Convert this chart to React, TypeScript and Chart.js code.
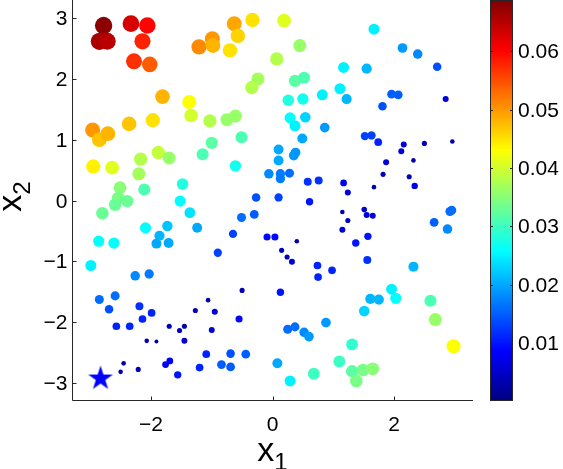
import React, { useEffect, useRef } from "react";
import { Chart, registerables } from "chart.js";

Chart.register(...registerables);

// ---- data ----
const xs: number[] = [
  -2.78, -2.85, -2.72, -2.33, -2.06, -2.14, -2.28, -2.02, -1.21, -0.99, -0.98, -0.63, -0.57, -0.33, -0.7, 0.19, 0.45, 0.07, -0.24, -0.34,
  -1.81, -1.37, -1.34, -2.96, -2.85, -2.71, -2.36, -1.97, -2.95, -2.64, -2.17, -1.88, -1.7, -2.2, -2.51, -2.54, -2.59, -2.39, -2.8, -2.11,
  -1.48, -1.52, -1.03, -0.75, -0.61, -0.51, -1.0, -1.15, -0.61, 0.37, 0.52, 0.26, 0.5, 0.82, 0.29, 0.54, 0.37, 0.49, 0.1, 0.38,
  0.35, 0.1, -0.06, 0.13, 0.13, 0.28, 0.58, 0.76, -0.27, 0.1, 0.61,
  1.67, 2.14, 2.39, 2.71, 1.17, 1.55, 1.11, 1.22, 1.96, 2.07, 1.81, 2.85, 0.86, 1.52, 1.63, 1.74, 2.16, 2.5, 2.96, 2.12,
  2.32, 1.87, 1.82, 2.25, 1.17, 1.24, 1.67, 2.34,
  -1.36, -2.09, -1.73, -1.86, -1.91, -1.71, -1.24, -2.86, -2.61, -2.99, -2.26, -2.03, -2.85, -2.59, -2.69, -2.19, -1.99, -2.14, -2.57, -2.35,
  -1.27, -1.7, -1.45, -1.53, -2.07, -1.91, -1.45, -2.45, -2.5, -2.21, -1.76, -1.69, -1.56, -1.2,
  -0.51, -0.3, -0.65, -0.9, -0.09, 0.04, 0.4, 0.15, 0.24, 0.32, 0.74, 0.75, -0.5, 0.13, -1.06, -0.95, -0.55, -1.0, 0.25, 0.37,
  0.52, 0.6, -1.09, -0.69, -0.44, -0.84, -0.69, 0.08, 0.29, 0.68,
  1.15, 1.51, 1.55, 1.65, 1.24, 1.15, 1.57, 1.37, 1.56, 0.98, 2.66, 2.92, 2.95, 2.88, 2.32, 1.96, 2.03, 1.61, 1.75, 1.51,
  0.88, 2.6, 2.68, 2.98, 1.31, 1.1, 1.31, 1.49, 1.65, 1.38,
];
const ys: number[] = [
  2.88, 2.62, 2.62, 2.91, 2.88, 2.62, 2.29, 2.24, 2.53, 2.66, 2.55, 2.91, 2.71, 2.97, 2.47, 2.96, 2.55, 2.33, 2.0, 1.86,
  1.71, 1.62, 1.4, 1.16, 1.0, 1.1, 1.26, 1.32, 0.56, 0.54, 0.68, 0.79, 0.7, 0.44, 0.21, 0.04, -0.07, -0.01, -0.21, 0.18,
  0.27, -0.01, 1.31, 1.33, 1.39, 1.04, 0.95, 0.76, 0.57, 1.97, 2.02, 1.65, 1.67, 1.74, 1.36, 1.37, 1.23, 1.02, 0.84, 0.79,
  0.74, 0.66, 0.44, 0.44, 0.36, 0.45, 0.31, 0.33, 0.05, 0.05, -0.02,
  2.82, 2.51, 2.41, 2.2, 2.19, 2.17, 1.84, 1.67, 1.75, 1.74, 1.55, 1.67, 1.2, 1.06, 1.07, 0.96, 0.92, 0.94, 0.97, 0.81,
  0.66, 0.63, 0.43, 0.39, 0.29, 0.13, 0.22, 0.24,
  -0.2, -0.45, -0.42, -0.58, -0.71, -0.7, -0.45, -0.67, -0.7, -1.07, -1.24, -1.21, -1.63, -1.57, -1.79, -1.74, -1.85, -1.95, -2.07, -2.07,
  -1.81, -2.07, -2.07, -2.14, -2.31, -2.32, -2.31, -2.68, -2.82, -2.78, -2.7, -2.64, -2.87, -2.75,
  -0.28, -0.23, -0.55, -0.86, -0.6, -0.6, -0.67, -0.82, -0.93, -1.01, -1.07, -1.26, -1.48, -1.51, -1.64, -1.83, -1.95, -2.13, -2.12, -2.08,
  -2.17, -2.24, -2.53, -2.52, -2.53, -2.7, -2.74, -2.68, -2.97, -2.85,
  -0.19, -0.15, -0.24, -0.25, -0.33, -0.48, -0.59, -0.7, -0.98, -1.15, -0.36, -0.18, -0.16, -0.47, -1.09, -1.46, -1.61, -1.62, -1.63, -1.82,
  -2.01, -1.65, -1.96, -2.4, -2.37, -2.65, -2.81, -2.79, -2.77, -2.97,
];
const vals: number[] = [
  0.068, 0.066, 0.065, 0.063, 0.06, 0.058, 0.057, 0.054, 0.051, 0.05, 0.048, 0.049, 0.046, 0.045, 0.045, 0.041, 0.036, 0.038, 0.037, 0.038,
  0.048, 0.043, 0.04, 0.05, 0.047, 0.048, 0.047, 0.045, 0.044, 0.041, 0.038, 0.039, 0.036, 0.037, 0.035, 0.034, 0.033, 0.033, 0.033, 0.031,
  0.028, 0.026, 0.038, 0.036, 0.036, 0.031, 0.032, 0.031, 0.027, 0.032, 0.031, 0.028, 0.027, 0.025, 0.026, 0.023, 0.025, 0.02, 0.02, 0.019,
  0.019, 0.02, 0.018, 0.017, 0.017, 0.016, 0.012, 0.012, 0.014, 0.013, 0.01,
  0.025, 0.019, 0.018, 0.014, 0.025, 0.021, 0.025, 0.021, 0.015, 0.015, 0.014, 0.006, 0.019, 0.013, 0.013, 0.011, 0.006, 0.004, 0.003, 0.006,
  0.003, 0.006, 0.004, 0.004, 0.008, 0.006, 0.003, 0.007,
  0.024, 0.026, 0.022, 0.021, 0.02, 0.02, 0.02, 0.026, 0.026, 0.025, 0.018, 0.017, 0.016, 0.016, 0.014, 0.012, 0.011, 0.011, 0.011, 0.011,
  0.004, 0.004, 0.004, 0.004, 0.003, 0.002, 0.006, 0.003, 0.003, 0.004, 0.008, 0.008, 0.01, 0.011,
  0.016, 0.015, 0.013, 0.013, 0.009, 0.009, 0.003, 0.004, 0.004, 0.006, 0.011, 0.011, 0.004, 0.01, 0.003, 0.006, 0.009, 0.006, 0.016, 0.016,
  0.018, 0.019, 0.011, 0.014, 0.015, 0.015, 0.015, 0.02, 0.025, 0.03,
  0.003, 0.005, 0.006, 0.006, 0.004, 0.006, 0.01, 0.01, 0.012, 0.011, 0.015, 0.016, 0.016, 0.018, 0.021, 0.025, 0.026, 0.021, 0.021, 0.023,
  0.019, 0.031, 0.036, 0.043, 0.029, 0.03, 0.032, 0.034, 0.035, 0.034,
];
const starX: number[] = [-2.83];
const starY: number[] = [-2.93];

const xTicks: number[] = [-2, 0, 2];
const xTickLabels: string[] = ["\u22122", "0", "2"];
const yTicks: number[] = [-3, -2, -1, 0, 1, 2, 3];
const yTickLabels: string[] = ["\u22123", "\u22122", "\u22121", "0", "1", "2", "3"];
const cbTicks: number[] = [0.01, 0.02, 0.03, 0.04, 0.05, 0.06];
const cbTickLabels: string[] = ["0.01", "0.02", "0.03", "0.04", "0.05", "0.06"];
const axisRange: number[] = [-3.3, 3.3];
const cRange: number[] = [0.0001, 0.0688];

// ---- style ----
const FONT = "'Liberation Sans', Arial, Helvetica, sans-serif";
const AXIS = "#262626";
const TICK_FS = 21;
const LABEL_FS = 34;
const SUB_FS = 24;

function jet(v: number): string {
  const t = Math.max(0, Math.min(1, (v - cRange[0]) / (cRange[1] - cRange[0])));
  const c = (x: number) => Math.max(0, Math.min(1, x));
  const r = c(1.5 - Math.abs(4 * t - 3));
  const g = c(1.5 - Math.abs(4 * t - 2));
  const b = c(1.5 - Math.abs(4 * t - 1));
  return `rgb(${Math.round(r * 255)},${Math.round(g * 255)},${Math.round(b * 255)})`;
}

function makeStar(R: number, color: string): HTMLCanvasElement {
  const cv = document.createElement("canvas");
  const s = Math.ceil(2 * R + 2);
  cv.width = s;
  cv.height = s;
  const c = cv.getContext("2d")!;
  const cx = s / 2, cy = s / 2, r = R * 0.382;
  c.beginPath();
  for (let i = 0; i < 10; i++) {
    const a = -Math.PI / 2 + (i * Math.PI) / 5;
    const rr = i % 2 === 0 ? R : r;
    const px = cx + rr * Math.cos(a), py = cy + rr * Math.sin(a);
    if (i === 0) c.moveTo(px, py); else c.lineTo(px, py);
  }
  c.closePath();
  c.fillStyle = color;
  c.fill();
  return cv;
}

const axesPlugin = {
  id: "matlabAxes",
  afterDraw(chart: any) {
    const { ctx, chartArea: ca, scales } = chart;
    const sx = scales.x, sy = scales.y, cb = scales.cb;
    ctx.save();
    ctx.strokeStyle = AXIS;
    ctx.fillStyle = "#000";
    ctx.lineWidth = 1;
    const L = Math.round(ca.left) + 0.5;
    const B = Math.round(ca.bottom) - 0.5;
    const TL = 4;
    ctx.beginPath();
    ctx.moveTo(L, ca.top);
    ctx.lineTo(L, B);
    ctx.lineTo(ca.right, B);
    ctx.stroke();
    ctx.beginPath();
    xTicks.forEach((t) => {
      const px = Math.round(sx.getPixelForValue(t)) + 0.5;
      ctx.moveTo(px, B);
      ctx.lineTo(px, B - TL);
    });
    yTicks.forEach((t) => {
      const py = Math.round(sy.getPixelForValue(t)) + 0.5;
      ctx.moveTo(L, py);
      ctx.lineTo(L + TL, py);
    });
    ctx.stroke();

    ctx.font = `${TICK_FS}px ${FONT}`;
    ctx.textBaseline = "alphabetic";
    ctx.textAlign = "center";
    xTicks.forEach((t, i) => {
      ctx.fillText(xTickLabels[i], sx.getPixelForValue(t), B + 30);
    });
    ctx.textAlign = "right";
    yTicks.forEach((t, i) => {
      ctx.fillText(yTickLabels[i], L - 5, sy.getPixelForValue(t) + 7);
    });

    // axis labels
    ctx.textAlign = "left";
    ctx.font = `${LABEL_FS}px ${FONT}`;
    const wx = ctx.measureText("x").width;
    ctx.font = `${SUB_FS}px ${FONT}`;
    const w1 = ctx.measureText("1").width;
    const cx = (ca.left + ca.right) / 2;
    const x0 = cx - (wx + w1) / 2;
    ctx.font = `${LABEL_FS}px ${FONT}`;
    ctx.fillText("x", x0, B + 60);
    ctx.font = `${SUB_FS}px ${FONT}`;
    ctx.fillText("1", x0 + wx, B + 69);

    ctx.save();
    const cy = (ca.top + ca.bottom) / 2 - 4;
    ctx.translate(21, cy);
    ctx.rotate(-Math.PI / 2);
    const y0 = -(wx + w1) / 2;
    ctx.font = `${LABEL_FS}px ${FONT}`;
    ctx.fillText("x", y0, 0);
    ctx.font = `${SUB_FS}px ${FONT}`;
    ctx.fillText("2", y0 + wx, 9);
    ctx.restore();

    // colorbar
    const cbx = Math.round(cb.left) + 17;
    const cbw = 23;
    const top = Math.round(cb.getPixelForValue(cRange[1]));
    const bot = Math.round(cb.getPixelForValue(cRange[0]));
    for (let py = top; py < bot; py++) {
      const v = cb.getValueForPixel(py + 0.5);
      ctx.fillStyle = jet(v);
      ctx.fillRect(cbx, py, cbw, 1);
    }
    ctx.strokeStyle = AXIS;
    ctx.strokeRect(cbx + 0.5, top + 0.5, cbw - 1, bot - top - 1);
    ctx.beginPath();
    cbTicks.forEach((t) => {
      const py = Math.round(cb.getPixelForValue(t)) + 0.5;
      ctx.moveTo(cbx, py);
      ctx.lineTo(cbx + 3, py);
      ctx.moveTo(cbx + cbw, py);
      ctx.lineTo(cbx + cbw - 3, py);
    });
    ctx.stroke();
    ctx.fillStyle = "#000";
    ctx.font = `${TICK_FS}px ${FONT}`;
    ctx.textAlign = "left";
    cbTicks.forEach((t, i) => {
      ctx.fillText(cbTickLabels[i], cbx + cbw + 5, cb.getPixelForValue(t) + 7);
    });
    ctx.restore();
  },
};

export default function App() {
  const ref = useRef<HTMLCanvasElement>(null);
  useEffect(() => {
    if (!ref.current) return;
    const pts = xs.map((x, i) => ({ x, y: ys[i] }));
    const star = makeStar(13, "#0000ff");
    const chart = new Chart(ref.current, {
      type: "scatter",
      data: {
        datasets: [
          {
            data: pts,
            pointRadius: vals.map((v) => 0.6 + 31 * Math.sqrt(v)),
            pointBackgroundColor: vals.map((v) => jet(v)),
            pointBorderWidth: 0,
            pointBorderColor: "rgba(0,0,0,0)",
            clip: false as any,
          },
          {
            data: starX.map((x, i) => ({ x, y: starY[i] })),
            pointStyle: star as any,
            pointRadius: 13,
            clip: false as any,
          },
        ],
      },
      options: {
        animation: false,
        responsive: false,
        devicePixelRatio: 1,
        layout: { padding: 0, autoPadding: false },
        plugins: { legend: { display: false }, tooltip: { enabled: false } },
        scales: {
          x: {
            type: "linear",
            min: axisRange[0],
            max: axisRange[1],
            grid: { display: false },
            border: { display: false },
            ticks: { display: false },
            afterFit: (s: any) => { s.height = 68; },
          },
          y: {
            type: "linear",
            position: "left",
            min: axisRange[0],
            max: axisRange[1],
            grid: { display: false },
            border: { display: false },
            ticks: { display: false },
            afterFit: (s: any) => { s.width = 72; },
          },
          cb: {
            type: "linear",
            position: "right",
            min: cRange[0],
            max: cRange[1],
            grid: { display: false },
            border: { display: false },
            ticks: { display: false },
            afterFit: (s: any) => { s.width = 90; },
          },
        },
      },
      plugins: [axesPlugin],
    });
    return () => chart.destroy();
  }, []);
  return (
    <div style={{ position: "fixed", left: 0, top: 0, width: 563, height: 469, background: "#fff" }}>
      <canvas ref={ref} width={563} height={469} style={{ display: "block" }} />
    </div>
  );
}
